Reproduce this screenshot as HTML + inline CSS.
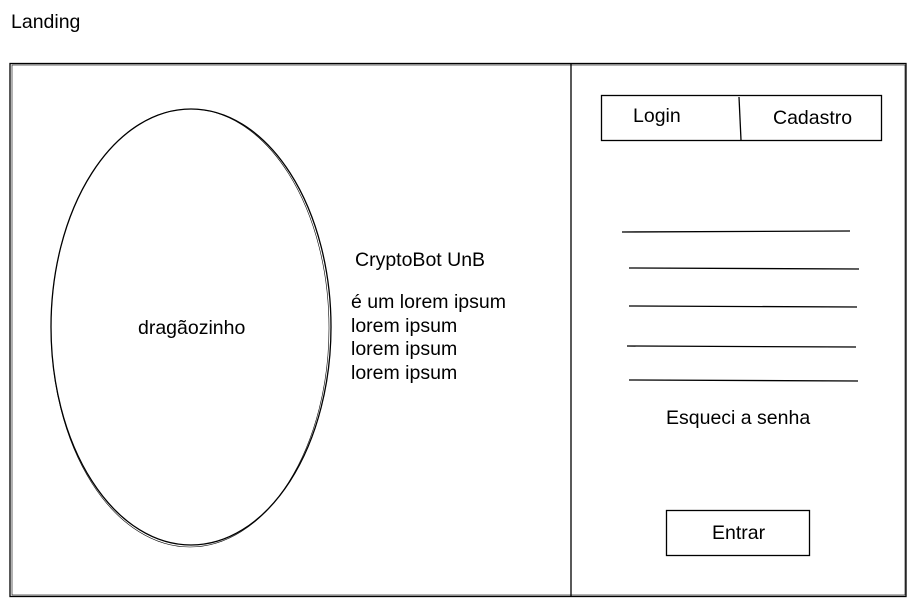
<!DOCTYPE html>
<html><head><style>
body{margin:0;width:917px;height:605px;background:#fff;position:relative;font-family:"Liberation Sans",Arial,sans-serif;color:#000;overflow:hidden}
.t{position:absolute;font-size:19.5px;white-space:nowrap;line-height:22px}
</style></head><body>
<svg width="917" height="605" style="position:absolute;left:0;top:0" fill="none" stroke="#000" stroke-width="1.3">
<rect x="10" y="63.5" width="896" height="533" />
<rect x="12" y="65" width="893" height="530" stroke-width="0.6"/>
<line x1="571" y1="63" x2="571" y2="596"/>
<rect x="601.5" y="95.5" width="280" height="45"/>
<line x1="739" y1="97" x2="741" y2="140"/>
<ellipse cx="191" cy="327" rx="140" ry="218"/>
<ellipse cx="190" cy="328" rx="139" ry="219" stroke-width="0.6"/>
<line x1="622" y1="232" x2="850" y2="231"/>
<line x1="629" y1="268" x2="859" y2="269"/>
<line x1="629" y1="306" x2="857" y2="307"/>
<line x1="627" y1="346" x2="856" y2="347"/>
<line x1="629" y1="380" x2="858" y2="381"/>
<rect x="666.5" y="510.5" width="143" height="45"/>
</svg>
<div class="t" style="left:11px;top:11px">Landing</div>
<div class="t" style="left:633px;top:105px">Login</div>
<div class="t" style="left:773px;top:107px">Cadastro</div>
<div class="t" style="left:138px;top:317px">dragãozinho</div>
<div class="t" style="left:355px;top:249px">CryptoBot UnB</div>
<div class="t" style="left:351px;top:291px;line-height:23.5px">é um lorem ipsum<br>lorem ipsum<br>lorem ipsum<br>lorem ipsum</div>
<div class="t" style="left:666px;top:407px">Esqueci a senha</div>
<div class="t" style="left:712px;top:522px">Entrar</div>
</body></html>
